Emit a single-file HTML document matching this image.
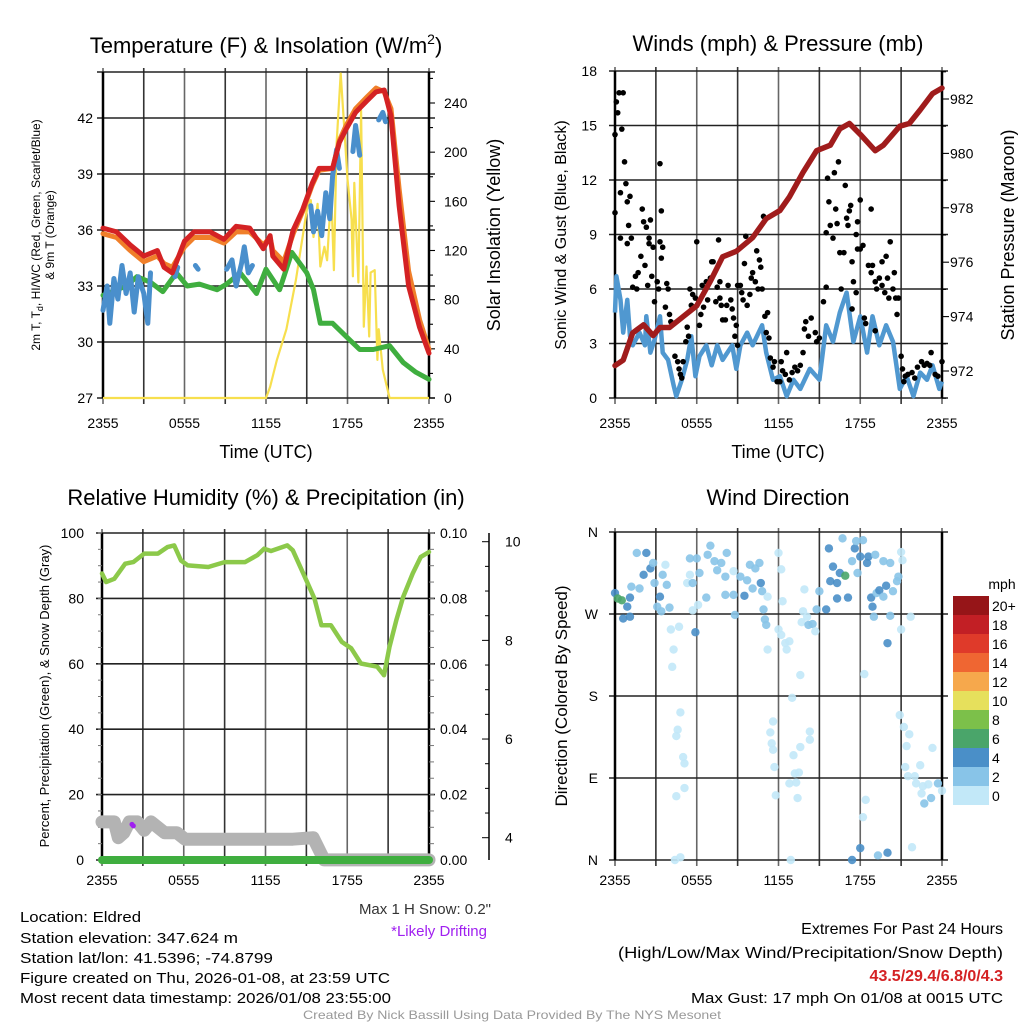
<!DOCTYPE html>
<html><head><meta charset="utf-8"><style>
html,body{margin:0;padding:0;background:#fff}
svg{display:block;font-family:"Liberation Sans",sans-serif}
</style></head><body>
<svg id="fig" width="1024" height="1024" viewBox="0 0 1024 1024"></svg>
<script>
// ---------------- DATA ----------------
const tempHours=[0,1.0,2.0,3.0,4.0,4.5,5.1,6.0,6.7,7.9,8.9,9.8,10.8,11.8,12.3,12.5,13.3,14.0,14.7,15.4,15.9,16.9,17.4,17.9,18.6,19.4,20.1,20.7,21.2,21.8,22.5,23.3,24];
const tempRed=[36.1,35.9,35.2,34.6,34.9,34.0,33.7,35.4,35.9,35.9,35.5,36.2,36.1,35.0,35.7,34.6,33.9,36.0,37.1,38.5,39.3,39.3,40.7,41.4,42.3,42.9,43.4,43.5,42.1,37.3,33.0,30.8,29.4];
const tempOrange=[35.8,35.6,34.9,34.3,34.6,34.2,34.0,35.1,35.6,35.6,35.3,35.9,35.9,35.2,35.6,34.9,34.3,35.8,37.0,38.4,39.2,39.3,40.8,41.6,42.5,43.1,43.6,43.4,42.5,38.2,33.8,31.2,29.6];
const dewHours=[0,1.7,2.5,3.5,4.4,5.4,6.2,7.1,8.4,9.1,10.1,11.3,12.0,13.0,13.9,15.0,15.5,16.0,16.9,17.9,18.9,19.9,21.1,22.1,23.0,24];
const dewPoint=[32.5,33.0,33.5,33.2,32.7,33.7,33.0,33.1,32.8,33.1,33.7,32.6,33.9,32.8,34.8,33.7,32.8,31.0,31.0,30.3,29.6,29.6,29.8,28.9,28.4,28.0];
const wcHours=[0,0.3,0.5,0.8,1.1,1.4,1.7,2.0,2.3,2.6,3.0,3.3,3.5,null,5.3,5.5,null,6.8,7.0,null,9.1,9.5,9.8,10.2,10.4,10.7,11.0,null,15.3,15.5,15.8,16.1,16.4,16.7,16.9,17.2,17.4,null,18.4,18.6,18.9,null,20.3,20.6,20.8];
const windChill=[31.7,33.0,31.0,33.4,32.3,34.1,32.6,33.7,31.6,33.5,32.6,31.0,33.7,null,33.5,34.0,null,34.1,33.9,null,33.9,34.4,33.0,34.2,35.1,33.7,34.1,null,37.3,35.9,37.0,35.7,38.0,36.6,38.9,40.3,39.3,null,40.2,41.6,40.0,null,41.9,42.3,41.8];
const solarHours=[0,12.0,12.3,12.8,13.5,14.2,15.0,15.3,15.5,15.8,16.0,16.3,16.5,16.8,17.0,17.2,17.5,17.8,18.0,18.3,18.4,18.5,18.8,19.0,19.2,19.4,19.6,19.7,20.0,20.2,20.3,20.6,21.1,24];
const solarWm2=[0,0,9,31,56,96,153,161,131,158,107,123,112,167,104,207,264,213,178,145,99,175,94,234,58,107,50,102,104,31,56,23,0,0];
const tempTicks=[27,30,33,36,39,42];
const solarTicks=[0,40,80,120,160,200,240];
const timeLabels=["2355","0555","1155","1755","2355"];

const pressHours=[0,0.6,1.3,2.1,2.8,3.3,4.0,5.0,6.0,7.0,7.9,8.9,10.1,11.1,12.1,12.8,13.8,14.8,15.8,16.5,17.2,18.0,19.1,19.7,20.9,21.6,22.4,23.3,24];
const pressure=[972.2,972.4,973.4,973.7,973.3,973.6,973.6,974.0,974.4,975.3,976.2,976.4,976.9,977.6,977.9,978.4,979.3,980.1,980.3,980.9,981.1,980.7,980.1,980.3,981.0,981.1,981.6,982.2,982.4];
const windHours=[0,0.1,0.4,0.6,0.9,1.1,1.3,1.8,2.2,2.3,2.6,2.9,3.3,3.5,3.9,4.3,4.5,4.9,5.3,5.6,5.9,6.2,6.7,7.1,7.5,7.9,8.6,8.9,9.2,9.7,10.1,10.8,11.1,11.6,12.1,12.6,13.1,13.6,14.3,15.0,15.5,16.0,16.5,17.0,17.5,18.0,18.5,18.9,19.4,19.9,20.4,20.9,21.4,21.9,22.4,22.9,23.3,23.8,24];
const windSpeed=[4.7,6.7,5.4,3.6,5.4,3.4,2.9,3.6,2.9,4.5,2.5,3.2,4.5,2.5,2.1,0.7,0.1,1.0,2.1,3.4,1.2,2.3,2.9,1.8,2.9,2.1,2.9,1.6,2.9,3.6,2.9,4.0,2.5,1.0,1.2,0.1,1.0,0.5,1.6,1.0,4.0,3.1,4.7,5.8,3.1,4.5,2.5,4.5,2.9,4.0,3.1,0.5,1.2,0.1,1.4,1.0,1.8,0.5,0.9];
const gustHours=[0,0,0.1,0.2,0.3,0.6,0.5,0.7,0.8,0.4,0.9,1.1,1.0,0.4,0.9,1.2,1.5,1.3,1.6,1.7,1.9,2.0,2.1,2.3,2.2,2.4,2.5,2.5,2.6,2.7,2.8,2.9,3.1,3.2,3.3,3.4,3.3,3.5,3.4,3.8,3.9,3.7,4.0,4.1,4.4,4.6,4.7,4.8,4.9,5.0,5.2,5.3,5.4,5.5,5.6,5.7,5.9,6.0,6.2,6.3,6.4,6.5,6.7,6.8,7.0,7.1,7.2,7.4,7.5,7.6,7.7,7.7,7.8,7.9,8.1,8.2,8.3,8.5,8.6,8.7,8.8,8.9,9.0,9.0,9.2,9.3,9.4,9.5,9.6,9.7,9.9,10.0,10.1,10.3,10.4,10.5,10.6,10.7,10.8,10.9,11.0,11.1,11.2,11.3,11.4,11.6,11.7,11.9,12.1,12.2,12.3,12.5,12.6,12.8,13.0,13.2,13.4,13.6,13.8,13.9,14.0,14.2,14.4,14.7,14.8,15.0,15.3,15.5,15.5,15.6,15.7,15.8,16.0,16.1,16.2,16.3,16.4,16.5,16.6,16.8,16.9,17.0,17.1,17.2,17.3,17.4,17.4,17.5,17.7,17.7,17.8,17.8,18.0,18.0,18.2,18.3,18.4,18.6,18.8,18.8,18.9,19.1,19.1,19.2,19.4,19.6,19.6,19.8,19.9,20.0,20.1,20.2,20.4,20.5,20.6,20.7,20.8,21.0,21.1,21.2,21.3,21.5,21.8,22.0,22.2,22.5,22.7,22.9,23.1,23.2,23.5,23.7,24.0];
const gustSpeed=[10.2,14.5,16.3,15.7,16.8,16.8,14.8,13.0,11.8,11.3,10.8,11.1,9.5,8.8,8.5,8.8,6.7,6.1,6.0,6.9,7.8,10.4,9.7,9.4,7.3,6.2,8.8,8.5,9.8,6.7,8.3,5.3,6.4,6.0,12.9,10.3,8.6,8.3,7.7,6.3,6.0,5.0,4.6,4.2,2.3,2.0,1.6,1.3,1.1,2.0,3.1,3.9,3.4,6.0,5.1,5.7,5.5,8.6,4.0,4.6,6.2,5.0,6.4,5.4,6.6,7.5,7.5,5.3,6.1,8.7,6.4,5.5,5.1,4.3,4.3,5.1,6.2,5.4,4.9,4.4,3.4,4.0,2.9,6.2,6.2,5.8,5.4,7.4,8.9,5.1,5.7,6.6,6.9,6.4,8.1,6.0,7.6,7.2,6.0,10.0,4.5,3.6,4.7,3.3,2.2,1.7,2.0,0.9,0.9,2.0,1.5,1.3,2.5,1.0,1.4,1.7,1.5,1.8,2.5,3.8,4.2,3.4,4.4,3.6,3.1,3.3,5.3,6.1,9.1,12.1,10.8,9.5,8.8,12.4,10.4,9.6,13.0,8.0,6.0,8.0,11.7,9.9,9.5,10.3,10.6,7.5,4.9,6.4,5.8,9.0,9.7,8.2,10.9,8.2,8.4,4.4,4.1,7.3,6.9,10.4,7.3,6.4,3.7,6.0,6.6,7.5,6.2,5.8,7.8,6.6,5.5,8.6,6.0,6.9,5.5,4.6,5.5,2.3,1.6,0.9,1.2,1.3,1.4,1.1,1.7,2.0,1.8,1.9,1.8,2.5,1.3,1.2,2.0];
const windTicks=[0,3,6,9,12,15,18];
const pressTicks=[972,974,976,978,980,982];

const rhHours=[0,0.3,0.9,1.7,2.3,3.1,4.1,4.8,5.3,5.8,6.3,7.8,9.0,10.5,11.4,11.9,12.4,13.6,14.0,15.0,15.6,16.1,16.8,17.6,18.3,19.0,20.2,20.7,21.1,21.6,22.1,22.8,23.4,24];
const relHum=[87.6,85.0,86.0,90.6,91.1,93.7,93.7,95.7,96.2,91.6,90.1,89.6,91.1,91.1,93.2,95.2,94.5,96.2,94.7,85.5,79.9,71.8,71.8,66.7,64.7,60.1,59.1,56.5,65.2,73.3,80.4,87.6,92.7,94.2];
const snowHours=[0,0.9,1.2,1.6,2.0,2.6,3.1,3.6,4.6,5.5,6.1,10,14.0,15.5,16.3,24];
const snowDepth=[4.32,4.32,4.0,4.1,4.32,4.32,4.15,4.32,4.1,4.1,3.97,3.97,3.97,4.0,3.55,3.55];
const precipHours=[0,24];
const precip=[0,0];
const rhTicks=[0,20,40,60,80,100];
const precipTicks=["0.00","0.02","0.04","0.06","0.08","0.10"];
const snowTicks=[4,6,8,10];

const dirHours=[0,0.2,0.5,0.9,0.6,1.1,1.1,1.2,1.6,1.8,2.1,2.3,2.6,2.8,2.9,3.3,3.1,3.4,3.5,3.8,3.7,4.0,4.1,4.3,4.2,4.7,5.5,5.5,5.3,5.7,6.0,6.2,5.9,5.7,6.1,6.7,6.8,7.0,7.3,7.5,7.8,8.2,8.1,8.7,8.1,8.7,8.8,9.2,9.5,9.7,9.9,10.3,10.6,10.7,10.1,10.8,10.9,11.0,11.1,11.2,12.0,12.2,12.3,12.0,12.2,12.5,12.6,12.8,11.2,13.6,13.0,13.9,13.8,14.1,13.7,14.2,14.5,14.7,14.8,15.0,15.5,15.7,15.8,16.0,16.3,16.3,16.5,16.7,16.9,17.1,17.4,17.6,17.7,17.8,18.0,18.2,18.5,18.6,18.8,18.9,19.1,19.0,19.2,19.4,19.7,19.9,19.7,20.0,20.2,20.2,20.4,20.7,20.8,21.0,21.1,21.0,21.7,18.3,4.8,4.6,4.5,5.0,5.1,5.1,4.5,4.4,4.8,11.6,11.4,11.5,11.6,11.7,11.8,14.3,14.3,13.6,13.1,13.2,13.5,12.8,13.3,13.4,12.9,20.9,21.2,21.6,21.4,21.3,21.5,22.0,22.4,23.3,22.1,22.6,23.0,22.5,23.2,22.7,23.7,24.0,18.4,18.2,18.0,17.4,19.3,20.0,21.8];
const dirDeg=[293,287,285,278,265,267,288,300,337,298,313,337,320,326,304,289,278,273,313,302,324,277,253,231,212,256,331,313,304,304,331,315,250,274,280,288,335,345,328,318,326,337,311,317,291,291,269,311,290,307,324,320,326,304,298,295,275,264,258,289,337,319,284,253,247,238,231,240,231,203,178,297,273,267,261,258,259,251,275,295,275,342,306,322,304,287,315,353,312,288,328,342,350,315,333,351,326,333,288,278,335,267,293,296,328,301,289,238,268,326,295,306,311,338,329,253,267,204,162,143,136,113,106,79,70,0,3,152,140,128,121,102,71,141,132,124,115,95,96,84,85,68,0,159,146,138,125,102,92,92,104,123,84,81,83,73,68,62,84,76,66,47,13,0,5,8,14];
const dirSpeed=[5,7,7,5,5,5,5,3,3,3,5,5,5,3,3,5,3,3,3,3,1,3,1,1,1,1,3,1,1,3,3,3,5,1,1,3,3,3,3,3,3,3,3,1,3,3,3,3,5,3,3,3,3,5,3,3,3,3,3,1,1,1,1,1,1,1,1,1,1,1,1,1,1,1,1,3,3,1,3,3,5,5,5,5,5,5,5,3,7,5,3,5,3,3,5,3,5,5,5,5,3,3,3,5,3,5,3,5,3,3,3,3,3,1,1,1,1,1,1,1,1,1,1,1,1,1,1,1,1,1,1,1,1,1,1,1,1,1,1,1,1,1,1,1,1,1,1,1,1,1,1,1,1,1,1,1,3,3,3,1,1,1,5,5,3,5,1,3,1];
const dirLabels=["N","E","S","W","N"];
const cbLabels=["0","2","4","6","8","10","12","14","16","18","20+"];
const cbColors=["#c2e8f8","#88c4e8","#4a8fc8","#4aa56a","#7cc04a","#e6e05c","#f6a84c","#ef6632","#df3a2a","#c21f25","#961518"];

// ---------------- DRAWING ----------------
const NS="http://www.w3.org/2000/svg";
const svg=document.getElementById('fig');
function mk(tag,attrs,name,parent){
  const el=document.createElementNS(NS,tag);
  for(const k in attrs)el.setAttribute(k,attrs[k]);
  
  
  (parent||svg).appendChild(el);return el;
}
function txt(x,y,s,size,anchor,name,extra){
  const a=Object.assign({x:x,y:y,'font-size':size,'text-anchor':anchor||'middle',fill:'#000'},extra||{});
  const t=mk('text',a,name);t.textContent=s;return t;
}
function lin(a,b,c,d){return v=>c+(v-a)*(d-c)/(b-a);}
function pathFrom(xs,ys,fx,fy){
  let d='',pen=false;
  for(let i=0;i<xs.length;i++){
    if(xs[i]===null||ys[i]===null){pen=false;continue;}
    d+=(pen?'L':'M')+fx(xs[i]).toFixed(1)+','+fy(ys[i]).toFixed(1);pen=true;
  }
  return d;
}
function grid(x0,x1,y0,y1,nx,ys,name){
  const g=mk('g',{},name);
  for(let i=0;i<=nx;i++){const x=x0+(x1-x0)*i/nx;
    mk('line',{x1:x,x2:x,y1:y0-4,y2:y1+6,stroke:i%2?'#333':'#666','stroke-width':1.6},'grid-vline',g);}
  ys.forEach(y=>mk('line',{x1:x0-6,x2:x1+6,y1:y,y2:y,stroke:'#222','stroke-width':1.6},'grid-hline',g));
  mk('line',{x1:x0,x2:x0,y1:y0,y2:y1,stroke:'#000','stroke-width':2.5},'left-axis-line',g);
  mk('line',{x1:x1,x2:x1,y1:y0,y2:y1,stroke:'#000','stroke-width':2.5},'right-axis-line',g);
  return g;
}
const tickPos=[0,6,12,18,24];

(function(){
  const x0=103,x1=429,y0=72,y1=398;
  const fx=lin(0,24,x0,x1), fy=lin(27,42,398,118), fs=lin(0,240,398,103);
  const hl=tempTicks.map(fy).concat([y0]);
  grid(x0,x1,y0,y1,8,hl,'temp-grid');
  tempTicks.forEach(v=>txt(93,fy(v)+5,String(v),14,'end','temp-tick-label'));
  for(let v=0;v<=260;v+=20){
    mk('line',{x1:x1,x2:x1+(v%40===0?6:4),y1:fs(v),y2:fs(v),stroke:'#000','stroke-width':1.1},'solar-tick');}
  solarTicks.forEach(v=>txt(444,fs(v)+5,String(v),14,'start','solar-tick-label'));
  tickPos.forEach((h,i)=>txt(fx(h),428,timeLabels[i],14,'middle','temp-time-label'));
  mk('path',{d:pathFrom(solarHours,solarWm2,fx,fs),fill:'none',stroke:'#f7df4e','stroke-width':2.2,'stroke-linejoin':'round'},'solar-insolation-line');
  mk('path',{d:pathFrom(dewHours,dewPoint,fx,fy),fill:'none',stroke:'#3fae3f','stroke-width':5,'stroke-linejoin':'round','stroke-linecap':'round'},'dewpoint-line');
  mk('path',{d:pathFrom(tempHours,tempOrange,fx,fy),fill:'none',stroke:'#f07f2a','stroke-width':5,'stroke-linejoin':'round','stroke-linecap':'round'},'temp-9m-line');
  mk('path',{d:pathFrom(wcHours,windChill,fx,fy),fill:'none',stroke:'#4a8fcc','stroke-width':5,'stroke-linejoin':'round','stroke-linecap':'round'},'windchill-line');
  mk('path',{d:pathFrom(tempHours,tempRed,fx,fy),fill:'none',stroke:'#d42224','stroke-width':5,'stroke-linejoin':'round','stroke-linecap':'round'},'temp-2m-line');
  const t=txt(266,53,'Temperature (F) & Insolation (W/m',22,'middle','temp-chart-title');
  const sup=document.createElementNS(NS,'tspan');sup.setAttribute('font-size','14');sup.setAttribute('dy','-9');sup.textContent='2';t.appendChild(sup);
  const cl=document.createElementNS(NS,'tspan');cl.setAttribute('dy','9');cl.textContent=')';t.appendChild(cl);
  txt(266,458,'Time (UTC)',18,'middle','temp-x-axis-title');
  txt(0,0,'2m T, T',12,'middle','temp-y-axis-title-line1',{transform:'translate(40,235) rotate(-90)'}).innerHTML='2m T, T<tspan font-size="9" dy="3">d</tspan><tspan dy="-3">, HI/WC (Red, Green, Scarlet/Blue)</tspan>';
  txt(0,0,'& 9m T (Orange)',12,'middle','temp-y-axis-title-line2',{transform:'translate(54,235) rotate(-90)'});
  txt(0,0,'Solar Insolation (Yellow)',18,'middle','solar-y-axis-title',{transform:'translate(500,235) rotate(-90)'});
})();

(function(){
  const x0=615,x1=942,y0=71,y1=398;
  const fx=lin(0,24,x0,x1), fy=lin(0,18,398,71), fp=lin(972,982,371,99);
  grid(x0,x1,y0,y1,8,windTicks.map(fy),'wind-grid');
  windTicks.forEach(v=>txt(597,fy(v)+5,String(v),14,'end','wind-tick-label'));
  for(let v=971;v<=983;v+=1){
    mk('line',{x1:x1,x2:x1+(v%2===0?7:4),y1:fp(v),y2:fp(v),stroke:'#000','stroke-width':1.1},'pressure-tick');}
  pressTicks.forEach(v=>txt(950,fp(v)+5,String(v),14,'start','pressure-tick-label'));
  tickPos.forEach((h,i)=>txt(fx(h),428,timeLabels[i],14,'middle','wind-time-label'));
  mk('path',{d:pathFrom(windHours,windSpeed,fx,fy),fill:'none',stroke:'#5098d0','stroke-width':4.5,'stroke-linejoin':'round'},'sustained-wind-line');
  const g=mk('g',{},'gust-points');
  gustHours.forEach((h,i)=>mk('circle',{cx:fx(h),cy:fy(gustSpeed[i]),r:2.8,fill:'#000'},'gust-point',g));
  mk('path',{d:pathFrom(pressHours,pressure,fx,fp),fill:'none',stroke:'#a01c1c','stroke-width':5.5,'stroke-linejoin':'round','stroke-linecap':'round'},'pressure-line');
  txt(778,51,'Winds (mph) & Pressure (mb)',22,'middle','wind-chart-title');
  txt(778,458,'Time (UTC)',18,'middle','wind-x-axis-title');
  txt(0,0,'Sonic Wind & Gust (Blue, Black)',16,'middle','wind-y-axis-title',{transform:'translate(566,235) rotate(-90)'});
  txt(0,0,'Station Pressure (Maroon)',18,'middle','pressure-y-axis-title',{transform:'translate(1014,235) rotate(-90)'});
})();

(function(){
  const x0=102,x1=429,y0=533,y1=860;
  const fx=lin(0,24,x0,x1), fy=lin(0,100,860,533), fsn=lin(4,10,837.7,541.7), fpr=lin(0,0.1,860,533);
  grid(x0,x1,y0,y1,8,rhTicks.map(fy),'rh-grid');
  for(let v=0;v<=100;v+=5){
    mk('line',{x1:x1,x2:x1+5,y1:fy(v),y2:fy(v),stroke:'#777','stroke-width':1},'precip-minor-tick');
    mk('line',{x1:x0-4,x2:x0,y1:fy(v),y2:fy(v),stroke:'#777','stroke-width':1},'rh-minor-tick');}
  rhTicks.forEach(v=>txt(84,fy(v)+5,String(v),14,'end','rh-tick-label'));
  precipTicks.forEach((s,i)=>txt(440,fy(rhTicks[i])+5,s,14,'start','precip-tick-label'));
  mk('line',{x1:489,x2:489,y1:533,y2:860,stroke:'#000','stroke-width':1.5},'snow-axis-line');
  for(let v=4;v<=10;v+=0.5){
    mk('line',{x1:489,x2:v%2===0?482:485,y1:fsn(v),y2:fsn(v),stroke:'#000','stroke-width':1},'snow-tick');}
  snowTicks.forEach(v=>txt(505,fsn(v)+5,String(v),14,'start','snow-tick-label'));
  tickPos.forEach((h,i)=>txt(fx(h),885,timeLabels[i],14,'middle','rh-time-label'));
  mk('path',{d:pathFrom(snowHours,snowDepth,fx,fsn),fill:'none',stroke:'#b3b3b3','stroke-width':13,'stroke-linejoin':'round','stroke-linecap':'round'},'snow-depth-line');
  mk('path',{d:pathFrom(precipHours,precip,fx,fpr),fill:'none',stroke:'#3fae3f','stroke-width':8,'stroke-linecap':'round'},'precip-line');
  mk('path',{d:pathFrom(rhHours,relHum,fx,fy),fill:'none',stroke:'#8cc94a','stroke-width':4.5,'stroke-linejoin':'round','stroke-linecap':'round'},'rh-line');
  mk('circle',{cx:fx(2.2),cy:fsn(4.27),r:2.5,fill:'#a020f0'},'drifting-mark');
  mk('circle',{cx:fx(2.3),cy:fsn(4.24),r:2.5,fill:'#a020f0'},'drifting-mark');
  txt(266,505,'Relative Humidity (%) & Precipitation (in)',22,'middle','rh-chart-title');
  txt(0,0,'Percent, Precipitation (Green), & Snow Depth (Gray)',13,'middle','rh-y-axis-title',{transform:'translate(49,696) rotate(-90)'});
})();

(function(){
  const x0=615,x1=942,y0=532,y1=860;
  const fx=lin(0,24,x0,x1), fy=lin(0,360,860,532);
  grid(x0,x1,y0,y1,8,[0,90,180,270,360].map(fy),'dir-grid');
  dirLabels.forEach((s,i)=>txt(598,fy(i*90)+5,s,14,'end','dir-tick-label'));
  tickPos.forEach((h,i)=>txt(fx(h),885,timeLabels[i],14,'middle','dir-time-label'));
  function col(s){const i=Math.min(10,Math.floor(s/2));return cbColors[i];}
  const g=mk('g',{},'direction-points');
  dirHours.forEach((h,i)=>mk('circle',{cx:fx(h),cy:fy(dirDeg[i]),r:4.2,fill:col(dirSpeed[i]),'fill-opacity':0.9},'direction-point',g));
  txt(778,505,'Wind Direction',22,'middle','dir-chart-title');
  txt(0,0,'Direction (Colored By Speed)',17,'middle','dir-y-axis-title',{transform:'translate(567,696) rotate(-90)'});
  txt(1002,589,'mph',14,'middle','colorbar-title');
  const cb=mk('g',{},'speed-colorbar');
  cbColors.forEach((c,i)=>{
    const y=786-i*19;
    mk('rect',{x:953,y:y,width:36,height:19,fill:c},'colorbar-swatch',cb);
    txt(992,y+15,cbLabels[i],14,'start','colorbar-label');});
})();

const left=[["Location: Eldred",922,121],["Station elevation: 347.624 m",943,218],["Station lat/lon: 41.5396; -74.8799",963,253],["Figure created on Thu, 2026-01-08, at 23:59 UTC",983,370],["Most recent data timestamp: 2026/01/08 23:55:00",1003,371]];
left.forEach(l=>txt(20,l[1],l[0],15,'start','station-info-line',{textLength:l[2],lengthAdjust:'spacingAndGlyphs'}));
txt(491,914,'Max 1 H Snow: 0.2"',15,'end','max-snow-text',{fill:'#333'});
txt(487,936,'*Likely Drifting',15,'end','drifting-note',{fill:'#a020f0'});
txt(1003,934,'Extremes For Past 24 Hours',16,'end','extremes-heading');
txt(1003,958,'(High/Low/Max Wind/Precipitation/Snow Depth)',16,'end','extremes-legend',{textLength:385,lengthAdjust:'spacingAndGlyphs'});
txt(1003,981,'43.5/29.4/6.8/0/4.3',16,'end','extremes-values',{fill:'#d42224','font-weight':'bold'});
txt(1003,1003,'Max Gust: 17 mph On 01/08 at 0015 UTC',15,'end','max-gust-text',{textLength:312,lengthAdjust:'spacingAndGlyphs'});
txt(512,1019,'Created By Nick Bassill Using Data Provided By The NYS Mesonet',12,'middle','credit-text',{fill:'#999',textLength:418,lengthAdjust:'spacingAndGlyphs'});
</script>
</body></html>
